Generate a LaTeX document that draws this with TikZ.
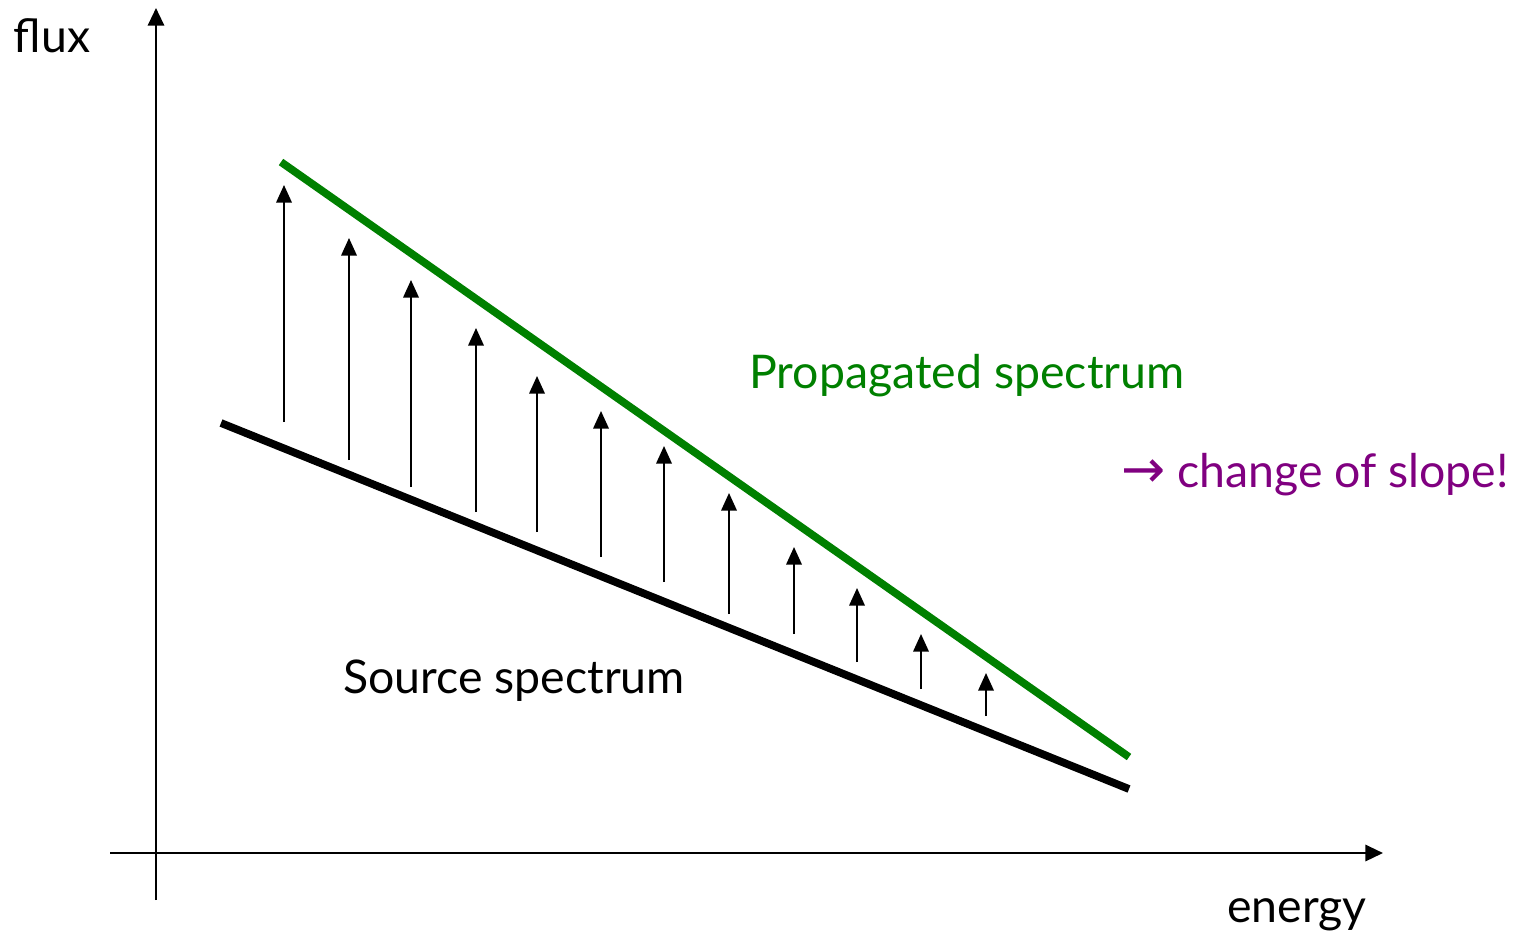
\documentclass[tikz,border=0pt]{standalone}
\usepackage{fontspec}
\setmainfont{Lato}
\newfontfamily\symfont{DejaVu Sans}
\usepackage{xcolor}
\usetikzlibrary{positioning, arrows.meta}

\definecolor{specgreen}{RGB}{0,128,0}
\definecolor{slopepurple}{RGB}{128,0,128}

\tikzset{
  axis/.style={line width=0.7pt, -{Triangle[width=4.6pt,length=5pt]}},
  boost/.style={line width=0.55pt, -{Triangle[width=4.4pt,length=5pt]}},
  spec/.style={line width=2.2pt},
  lbl/.style={font=\fontsize{13.2}{16}\selectfont, anchor=base, inner sep=0pt}
}

\begin{document}
\begin{tikzpicture}[x=0.01cm, y=-0.01cm]
      \useasboundingbox (0,0) rectangle (1519,933);

      % axes
      \coordinate (xstart) at (110,853);
      \coordinate (xend) at (1383,853);
      \coordinate (ystart) at (156,900);
      \coordinate (yend) at (156,8);
      \draw[axis] (xstart) -- (xend);
      \draw[axis] (ystart) -- (yend);
      \node[lbl] (flux) at (52,52) {flux};
      \node[lbl] (energy) at (1297,922) {energy};

      % spectra
      \coordinate (src1) at (221,423);
      \coordinate (src2) at (1129,789);
      \coordinate (prop1) at (281,162);
      \coordinate (prop2) at (1129,757);
      \draw[spec] (src1) -- (src2);
      \draw[spec, specgreen] (prop1) -- (prop2);

      % arrows from source to propagated
      \foreach \i/\x/\ya/\yb in {1/284/422/185, 2/349/460/238, 3/411/487/280,
          4/476/512/328, 5/537/532/376, 6/601/557/411, 7/664/582/446,
          8/729/614/493, 9/794/634/547, 10/857/662/588, 11/921/689/634,
          12/986/716/673} {
        \coordinate (a\i) at (\x,\ya);
        \coordinate (b\i) at (\x,\yb);
        \draw[boost] (a\i) -- (b\i);
      }

      \node[lbl, specgreen] (proplabel) at (967,388) {Propagated spectrum};
      \node[lbl, slopepurple] (slopelabel) at (1315,487) {{\symfont\fontsize{15}{16}\selectfont →} change of slope!};
      \node[lbl] (srclabel) at (514,693) {Source spectrum};
\end{tikzpicture}
\end{document}
